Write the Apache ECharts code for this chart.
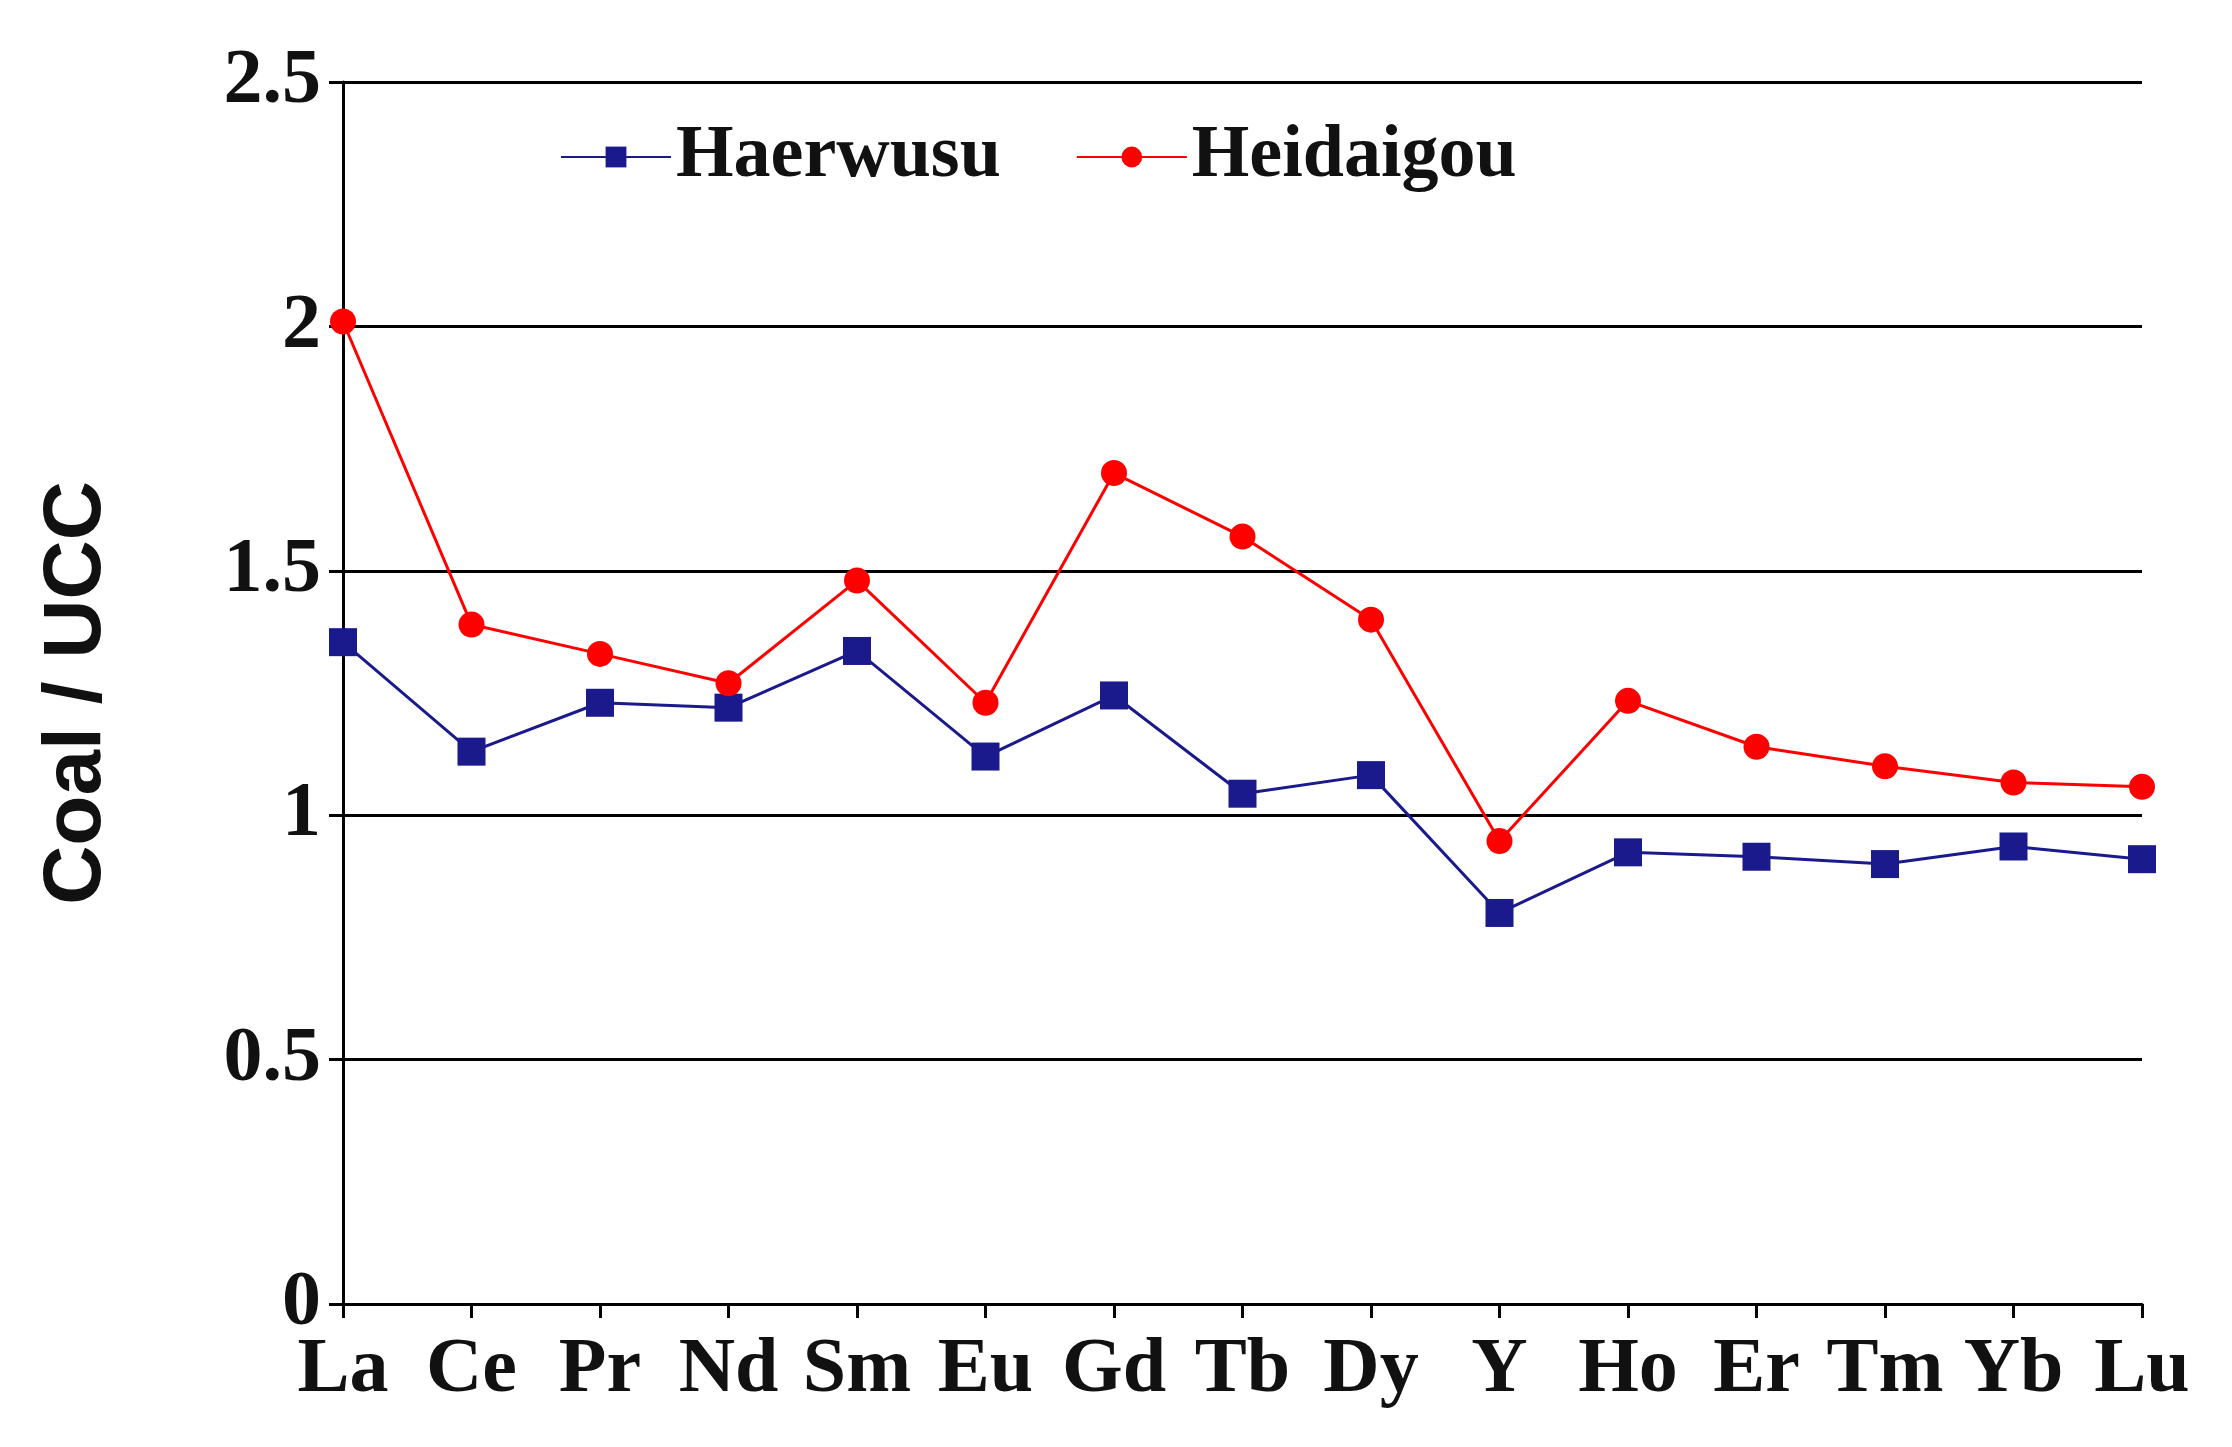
<!DOCTYPE html>
<html><head><meta charset="utf-8">
<script src="https://cdn.jsdelivr.net/npm/echarts@6/dist/echarts.min.js"></script>
<style>html,body{margin:0;padding:0;background:#fff}#c{width:2232px;height:1447px}</style>
</head><body><div id="c"></div>
<script>
const categories = ['La','Ce','Pr','Nd','Sm','Eu','Gd','Tb','Dy','Y','Ho','Er','Tm','Yb','Lu'];
const haerwusu = [1.354,1.13,1.23,1.22,1.336,1.12,1.245,1.044,1.082,0.80,0.924,0.915,0.90,0.936,0.91];
const heidaigou = [2.01,1.39,1.33,1.27,1.48,1.23,1.70,1.57,1.40,0.947,1.234,1.14,1.10,1.067,1.058];
const yTicks = {min:0,max:2.5,interval:0.5};
const chart = echarts.init(document.getElementById('c'));
const serif = 'Liberation Serif';
chart.setOption({
  animation:false,
  grid:{left:343,right:90,top:82,bottom:143},
  legend:{top:115,left:555,itemWidth:110,itemHeight:26,itemGap:75,
    textStyle:{fontFamily:serif,fontWeight:'bold',fontSize:74,color:'#111'},
    data:['Haerwusu','Heidaigou']},
  xAxis:{type:'category',data:categories,boundaryGap:false,
    axisLine:{lineStyle:{color:'#000',width:3}},
    axisTick:{show:true,length:14,lineStyle:{color:'#000',width:3},alignWithLabel:true},
    axisLabel:{fontFamily:serif,fontWeight:'bold',fontSize:78,color:'#111',margin:28,interval:0}},
  yAxis:{type:'value',min:yTicks.min,max:yTicks.max,interval:yTicks.interval,
    name:'Coal / UCC',nameLocation:'middle',nameGap:225,
    nameTextStyle:{fontFamily:'Liberation Sans',fontWeight:'bold',fontSize:82,color:'#111'},
    axisLine:{show:true,lineStyle:{color:'#000',width:3}},
    axisTick:{show:true,length:14,lineStyle:{color:'#000',width:3}},
    splitLine:{lineStyle:{color:'#000',width:3}},
    axisLabel:{fontFamily:serif,fontWeight:'bold',fontSize:78,color:'#111',margin:22}},
  series:[
    {name:'Haerwusu',type:'line',data:haerwusu,symbol:'rect',symbolSize:28,
      lineStyle:{color:'#1a1a8c',width:3},itemStyle:{color:'#1a1a8c'}},
    {name:'Heidaigou',type:'line',data:heidaigou,symbol:'circle',symbolSize:26,
      lineStyle:{color:'#ff0000',width:3},itemStyle:{color:'#ff0000'}}
  ]
});
</script></body></html>
